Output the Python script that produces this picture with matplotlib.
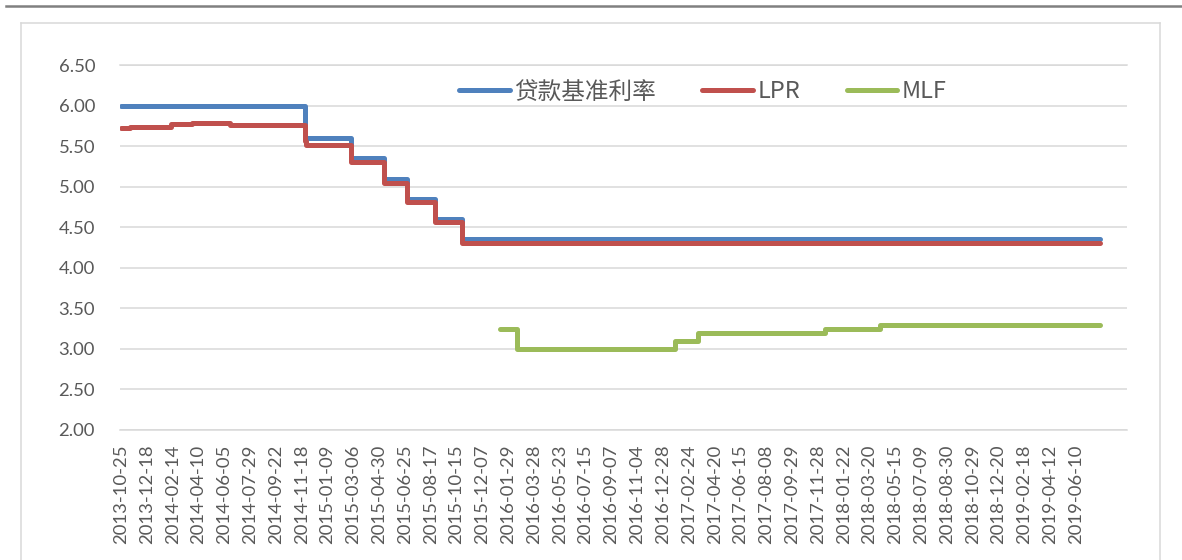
import numpy as np
import matplotlib
matplotlib.use("Agg")
import matplotlib.pyplot as plt
from matplotlib.lines import Line2D
from matplotlib.font_manager import FontProperties

# ---------------- data ----------------
tick_labels = ['2013-10-25', '2013-12-18', '2014-02-14', '2014-04-10', '2014-06-05',
               '2014-07-29', '2014-09-22', '2014-11-18', '2015-01-09', '2015-03-06',
               '2015-04-30', '2015-06-25', '2015-08-17', '2015-10-15', '2015-12-07',
               '2016-01-29', '2016-03-28', '2016-05-23', '2016-07-15', '2016-09-07',
               '2016-11-04', '2016-12-28', '2017-02-24', '2017-04-20', '2017-06-15',
               '2017-08-08', '2017-09-29', '2017-11-28', '2018-01-22', '2018-03-20',
               '2018-05-15', '2018-07-09', '2018-08-30', '2018-10-29', '2018-12-20',
               '2019-02-18', '2019-04-12', '2019-06-10']

series_names = ['贷款基准利率', 'LPR', 'MLF']

loan_dates = ['2013-10-25', '2014-11-24', '2015-03-02', '2015-05-11',
              '2015-06-29', '2015-08-26', '2015-10-26']
loan_vals = [6.00, 5.60, 5.35, 5.10, 4.85, 4.60, 4.35]

lpr_dates = ['2013-10-25', '2013-11-12', '2014-02-10', '2014-03-28', '2014-06-17',
             '2014-11-24', '2014-11-27', '2015-03-02', '2015-05-11', '2015-06-29',
             '2015-08-26', '2015-10-26', '2018-03-01']
lpr_vals = [5.72, 5.74, 5.77, 5.78, 5.76, 5.56, 5.51, 5.30, 5.05, 4.81, 4.56, 4.30, 4.31]

mlf_dates = ['2016-01-12', '2016-02-17', '2017-01-24', '2017-03-16',
             '2017-12-14', '2018-04-12']
mlf_vals = [3.25, 3.00, 3.10, 3.20, 3.25, 3.30]

end_date = '2019-07-29'

# ---------------- category (trading-day) scale ----------------
LABEL_STEP = 38  # categories between shown labels
label_days = np.array(tick_labels, dtype='datetime64[D]')
label_pos = np.arange(len(tick_labels)) * LABEL_STEP


def to_pos(dates):
    d = np.array(dates, dtype='datetime64[D]')
    out = np.interp(d.astype(np.int64), label_days.astype(np.int64), label_pos).astype(float)
    after = d > label_days[-1]
    if np.any(after):
        out[after] = label_pos[-1] + np.busday_count(label_days[-1], d[after])
    return out


def step_xy(dates, vals):
    x = np.append(to_pos(dates), to_pos([end_date])[0])
    y = np.append(np.array(vals, dtype=float), vals[-1])
    return x, y


# ---------------- figure ----------------
W, H = 1182, 560
fig = plt.figure(figsize=(W / 100, H / 100), dpi=100)
fig.patch.set_facecolor('white')

ax = fig.add_axes([120 / W, 1 - 430 / H, 1007 / W, 365 / H])

colors = ['#4F81BD', '#C0504D', '#9BBB59']
lw = 3.6
handles = []
for (dts, vals), c, name in zip([(loan_dates, loan_vals), (lpr_dates, lpr_vals), (mlf_dates, mlf_vals)],
                                colors, series_names):
    x, y = step_xy(dts, vals)
    ln, = ax.step(x, y, where='post', color=c, lw=lw, solid_capstyle='round',
                  solid_joinstyle='round', label=name)
    handles.append(ln)

ax.set_ylim(2.0, 6.5)
ax.set_yticks(np.arange(2.0, 6.51, 0.5))
ax.set_yticklabels([f'{v:.2f}' for v in np.arange(2.0, 6.51, 0.5)])
ax.set_xlim(-1.5, 1481)
ax.set_xticks(label_pos)
ax.set_xticklabels(tick_labels, rotation=90)

tick_font = FontProperties(family=['Lato', 'DejaVu Sans'], size=13.3)
for lab in ax.get_yticklabels() + ax.get_xticklabels():
    lab.set_fontproperties(tick_font)
    lab.set_color('#595959')

ax.tick_params(axis='y', length=0, pad=18)
ax.tick_params(axis='x', length=0, pad=10.5)

ax.yaxis.grid(True, color='#D9D9D9', lw=1.1)
ax.set_axisbelow(True)
for s in ['left', 'right']:
    ax.spines[s].set_visible(False)
for s in ['top', 'bottom']:
    ax.spines[s].set_color('#D9D9D9')
    ax.spines[s].set_linewidth(1.1)

leg_font = FontProperties(family=['Noto Sans CJK SC', 'DejaVu Sans'], size=17)
leg = ax.legend(handles=handles, ncol=3, loc='center left',
                bbox_to_anchor=(459 / W, 1 - 92 / H), bbox_transform=fig.transFigure,
                frameon=False, prop=leg_font, borderpad=0, borderaxespad=0,
                handlelength=2.15, handletextpad=0.2, columnspacing=1.95)
for t in leg.get_texts():
    t.set_color('#595959')

# ---------------- outer decorations ----------------
fig.add_artist(Line2D([6 / W, 1.0], [1 - 5.7 / H] * 2, color='#808080', lw=1.8))
bc = '#D9D9D9'
fig.add_artist(Line2D([21 / W, 21 / W], [0, 1 - 22.7 / H], color=bc, lw=1.1))
fig.add_artist(Line2D([21 / W, 1160 / W], [1 - 22.7 / H] * 2, color=bc, lw=1.1))
fig.add_artist(Line2D([1160 / W, 1160 / W], [0, 1 - 22.7 / H], color=bc, lw=1.1))

fig.savefig('out.png', dpi=100, facecolor='white')
